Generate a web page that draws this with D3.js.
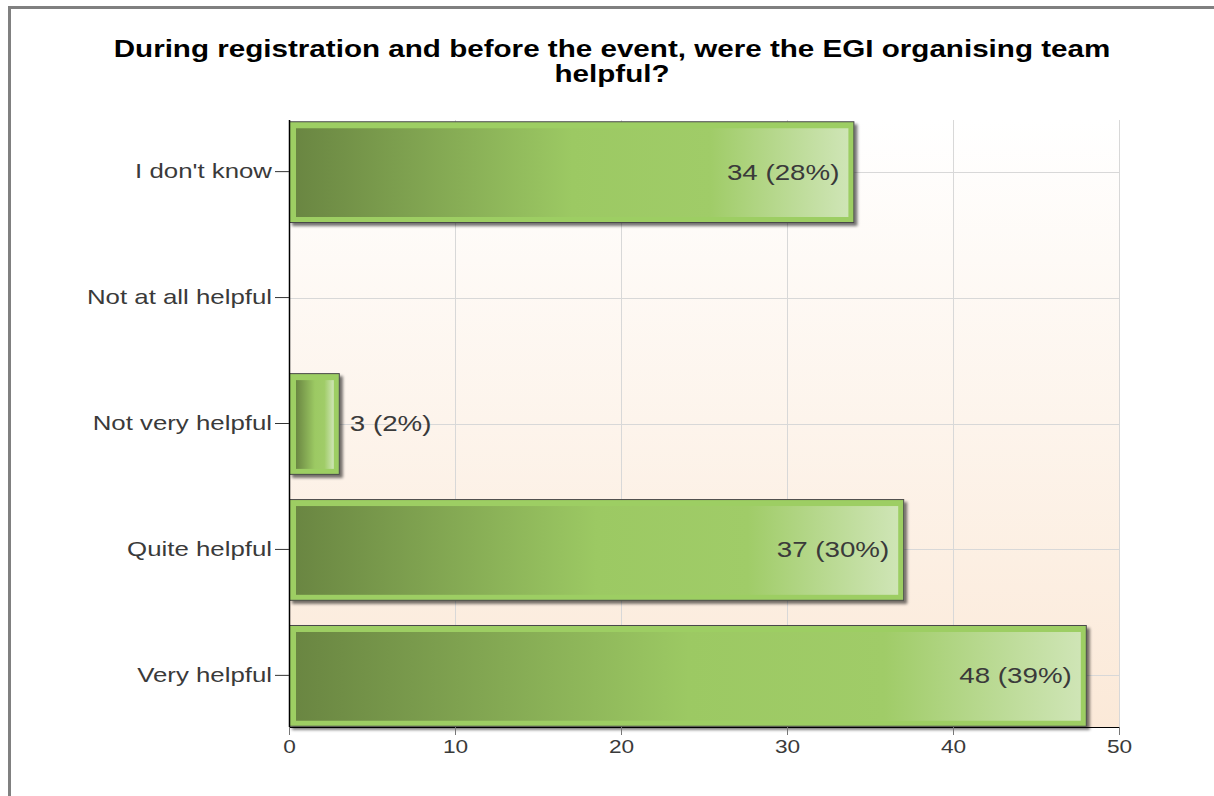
<!DOCTYPE html>
<html>
<head>
<meta charset="utf-8">
<script src="https://cdn.jsdelivr.net/npm/d3@7/dist/d3.min.js"></script>
<style>
  html, body { margin: 0; padding: 0; background: #fff; }
  svg { display: block; }
</style>
</head>
<body>
<svg id="chart" width="1214" height="796"></svg>
<script>
const categories = ["I don't know", "Not at all helpful", "Not very helpful", "Quite helpful", "Very helpful"];
const counts = [34, 0, 3, 37, 48];
const percents = ["28%", "0%", "2%", "30%", "39%"];
const xTicks = [0, 10, 20, 30, 40, 50];
const titleLines = ["During registration and before the event, were the EGI organising team", "helpful?"];

(function () {
const svg = d3.select("#chart");
const font = "Liberation Sans, Arial, sans-serif";
const SX = 1.26; // horizontal stretch of the reference's lettering

function stretch(sel) {
  sel.each(function () {
    const t = d3.select(this);
    const x0 = +(t.attr("x") || 0);
    t.attr("transform", `translate(${x0},0) scale(${SX},1) translate(${-x0},0)`);
  });
}

svg.append("rect").attr("x", 0).attr("y", 0).attr("width", 1214).attr("height", 796).attr("fill", "#fff");
svg.append("path").attr("d", "M9.5,796 V7.5 H1214").attr("fill", "none").attr("stroke", "#808080").attr("stroke-width", 3);

const pL = 289, pR = 1119, pT = 120, pB = 727;

const x = d3.scaleLinear().domain([0, 50]).range([pL, pR]);
const y = d3.scaleBand().domain(categories).range([pT, pB]).paddingInner(0.2).paddingOuter(0.01);

const defs = svg.append("defs");
const bg = defs.append("linearGradient").attr("id", "bg").attr("x1", 0).attr("y1", 0).attr("x2", 0).attr("y2", 1);
bg.append("stop").attr("offset", 0).attr("stop-color", "#ffffff");
bg.append("stop").attr("offset", 1).attr("stop-color", "#fbe9d8");

const bar = defs.append("linearGradient").attr("id", "barg").attr("x1", 0).attr("y1", 0).attr("x2", 1).attr("y2", 0);
bar.append("stop").attr("offset", 0).attr("stop-color", "#6a8642");
bar.append("stop").attr("offset", 0.5).attr("stop-color", "#9cc963");
bar.append("stop").attr("offset", 0.75).attr("stop-color", "#a0cc68");
bar.append("stop").attr("offset", 1).attr("stop-color", "#cfe5b6");

const shadow = defs.append("filter").attr("id", "shadow").attr("x", -0.1).attr("y", -0.1).attr("width", 1.3).attr("height", 1.3);
shadow.append("feGaussianBlur").attr("in", "SourceAlpha").attr("stdDeviation", 1.5).attr("result", "b");
shadow.append("feOffset").attr("in", "b").attr("dx", 3).attr("dy", 3).attr("result", "o");
shadow.append("feComponentTransfer").attr("in", "o").attr("result", "s")
  .append("feFuncA").attr("type", "linear").attr("slope", 0.55);
const m = shadow.append("feMerge");
m.append("feMergeNode").attr("in", "s");
m.append("feMergeNode").attr("in", "SourceGraphic");

svg.append("rect").attr("x", pL).attr("y", pT).attr("width", pR - pL).attr("height", pB - pT).attr("fill", "url(#bg)");

svg.append("g").selectAll("line").data(xTicks.filter(d => d > 0)).join("line")
  .attr("x1", d => x(d) + 0.5).attr("x2", d => x(d) + 0.5)
  .attr("y1", pT).attr("y2", pB)
  .attr("stroke", "#d8d8d8").attr("stroke-width", 1);
svg.append("g").selectAll("line").data(categories).join("line")
  .attr("x1", pL).attr("x2", pR)
  .attr("y1", d => Math.round(y(d) + y.bandwidth() / 2) + 0.5)
  .attr("y2", d => Math.round(y(d) + y.bandwidth() / 2) + 0.5)
  .attr("stroke", "#d8d8d8").attr("stroke-width", 1);

const data = categories.map((c, i) => ({ c, v: counts[i], p: percents[i] }));
const bars = svg.append("g").selectAll("g").data(data.filter(d => d.v > 0)).join("g");
bars.append("rect")
  .attr("x", pL + 0.5).attr("y", d => y(d.c) + 0.5)
  .attr("width", d => x(d.v) - pL).attr("height", y.bandwidth())
  .attr("fill", "#9dce63").attr("stroke", "#4a4a4a").attr("stroke-width", 1)
  .attr("filter", "url(#shadow)");
bars.append("rect")
  .attr("x", pL + 7).attr("y", d => y(d.c) + 7)
  .attr("width", d => x(d.v) - pL - 12).attr("height", y.bandwidth() - 12)
  .attr("fill", "url(#barg)");

svg.append("g").selectAll("text").data(data.filter(d => d.v > 0)).join("text")
  .attr("x", d => (x(d.v) - pL > 150) ? x(d.v) - 14 : x(d.v) + 11)
  .attr("y", d => y(d.c) + y.bandwidth() / 2)
  .attr("dy", "0.36em")
  .attr("text-anchor", d => (x(d.v) - pL > 150) ? "end" : "start")
  .attr("font-family", font).attr("font-size", 22).attr("fill", "#3a3a3a")
  .text(d => `${d.v} (${d.p})`)
  .call(stretch);

const xAxis = svg.append("g").attr("transform", `translate(0,${pB})`)
  .call(d3.axisBottom(x).tickValues(xTicks).tickSize(8).tickPadding(5).tickFormat(d3.format("d")));
xAxis.select(".domain").attr("stroke", "#000").attr("d", `M${pL},0.5H${pR}`);
xAxis.selectAll(".tick line").attr("stroke", "#777");
xAxis.selectAll("text").attr("font-family", font).attr("font-size", 18).attr("fill", "#3a3a3a").call(stretch);

const yAxis = svg.append("g").attr("transform", `translate(${pL},0)`)
  .call(d3.axisLeft(y).tickSize(14).tickPadding(3));
yAxis.select(".domain").attr("stroke", "#000").attr("stroke-width", 1.5).attr("d", `M0.5,${pT}V${pB}`);
yAxis.selectAll(".tick line").attr("stroke", "#333");
yAxis.selectAll("text").attr("font-family", font).attr("font-size", 20.5).attr("fill", "#3a3a3a").call(stretch);

svg.append("g").selectAll("text").data(titleLines).join("text")
  .attr("x", 612).attr("y", (d, i) => 57 + i * 25)
  .attr("text-anchor", "middle")
  .attr("font-family", font).attr("font-size", 23.5).attr("font-weight", "bold").attr("fill", "#000")
  .text(d => d)
  .call(stretch);
})();
</script>
</body>
</html>
